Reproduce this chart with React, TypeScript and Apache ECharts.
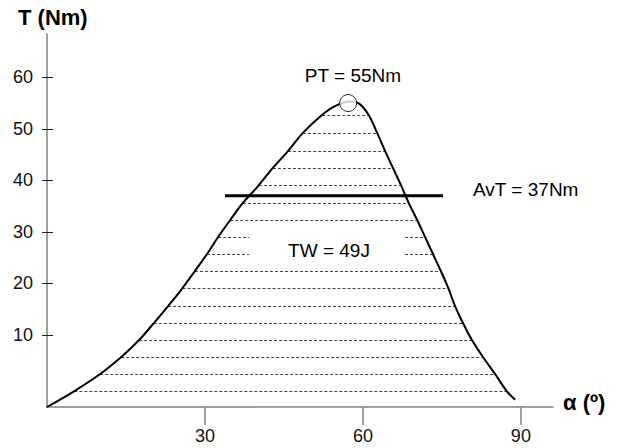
import React, { useEffect, useRef } from "react";
import * as echarts from "echarts";

// ---- data ----
const xTicks = [30, 60, 90];
const yTicks = [10, 20, 30, 40, 50, 60];

const curveAngle = [0, 4.9, 10.1, 14.1, 17.5, 20.3, 23.0, 25.6, 28.1, 30.4, 32.5, 34.8, 37.2, 40.1, 42.9, 45.8, 48.6, 52.0, 54.7, 57.4, 59.4, 61.2, 62.7, 64.2, 65.7, 67.2, 68.7, 70.3, 71.8, 73.3, 74.8, 76.2, 77.5, 79.0, 80.7, 82.8, 85.1, 87.3, 88.9];
const curveTorque = [-4.0, -1.1, 2.4, 5.7, 9.0, 12.3, 15.6, 18.9, 22.4, 25.7, 29.0, 32.3, 35.6, 38.9, 42.4, 45.7, 49.2, 52.5, 54.4, 55.3, 54.8, 52.5, 49.2, 45.7, 42.4, 39.1, 35.6, 32.3, 29.0, 25.7, 22.4, 19.1, 15.6, 12.3, 9.0, 5.7, 2.4, -0.9, -2.6];

const hatchLevels = [52.7, 49.2, 45.7, 42.4, 39.1, 35.6, 32.3, 29.0, 25.7, 22.4, 19.1, 15.6, 12.3, 9.0, 5.7, 2.4, -0.9];
const splitLevels = [29.0, 25.7];
const textGap = [38.4, 68.0];

const peakPoint = [57.2, 55];
const avgTorque = 37;
const avgSpan = [33.8, 75.2];

const labelPT = "PT = 55Nm";
const labelAvT = "AvT = 37Nm";
const labelTW = "TW = 49J";
const yName = "T (Nm)";
const xName = "α (º)";

const FONT = "'Liberation Sans', Arial, Helvetica, sans-serif";

function crossings(level: number): [number, number] {
  let peakIdx = 0;
  curveTorque.forEach((v, i) => {
    if (v > curveTorque[peakIdx]) peakIdx = i;
  });
  let left = curveAngle[0];
  for (let i = 0; i < peakIdx; i++) {
    const a = curveTorque[i], b = curveTorque[i + 1];
    if (a <= level && b >= level) {
      left = curveAngle[i] + ((level - a) / (b - a)) * (curveAngle[i + 1] - curveAngle[i]);
      break;
    }
  }
  let right = curveAngle[curveAngle.length - 1];
  for (let i = peakIdx; i < curveTorque.length - 1; i++) {
    const a = curveTorque[i], b = curveTorque[i + 1];
    if (a >= level && b <= level) {
      right = curveAngle[i] + ((a - level) / (a - b)) * (curveAngle[i + 1] - curveAngle[i]);
      break;
    }
  }
  return [left, right];
}

export default function App() {
  const ref = useRef<HTMLDivElement>(null);
  useEffect(() => {
    if (!ref.current) return;
    const chart = echarts.init(ref.current, null, { renderer: "svg" });

    const hatchData: any[] = [];
    hatchLevels.forEach((lv) => {
      const [l, r] = crossings(lv);
      if (splitLevels.includes(lv)) {
        hatchData.push({ coords: [[l, lv], [textGap[0], lv]] });
        hatchData.push({ coords: [[textGap[1], lv], [r, lv]] });
      } else {
        hatchData.push({ coords: [[l, lv], [r, lv]] });
      }
    });

    const yMin = -4;
    const yMax = 68.4;

    chart.setOption({
      animation: false,
      grid: { left: 47, right: 65, top: 34, bottom: 41, containLabel: false },
      xAxis: {
        type: "value",
        min: 0,
        max: 96.1,
        splitLine: { show: false },
        axisLine: { show: true, onZero: false, lineStyle: { color: "#808080", width: 1.5 } },
        axisTick: { show: true, length: 18, customValues: xTicks, lineStyle: { color: "#808080", width: 1.5 } },
        axisLabel: { customValues: xTicks, margin: 20, fontSize: 18, color: "#111", fontFamily: FONT },
      },
      yAxis: [
        {
          type: "value",
          min: yMin,
          max: yMax,
          splitLine: { show: false },
          axisLine: { show: true, onZero: false, lineStyle: { color: "#808080", width: 1.5 } },
          axisTick: { show: true, length: 5, customValues: yTicks, lineStyle: { color: "#222", width: 1 } },
          axisLabel: { customValues: yTicks, margin: 14, fontSize: 18, color: "#111", fontFamily: FONT },
        },
        {
          type: "value",
          position: "left",
          min: yMin,
          max: yMax,
          splitLine: { show: false },
          axisLine: { show: false, onZero: false },
          axisTick: { show: true, inside: true, length: 6, customValues: yTicks, lineStyle: { color: "#222", width: 1 } },
          axisLabel: { show: false, customValues: yTicks },
        },
      ],
      series: [
        {
          type: "lines",
          coordinateSystem: "cartesian2d",
          silent: true,
          z: 1,
          lineStyle: { color: "#444", width: 1, type: [3, 2], opacity: 1 },
          data: hatchData,
        },
        {
          type: "line",
          z: 3,
          data: curveAngle.map((a, i) => [a, curveTorque[i]]),
          smooth: 0.3,
          showSymbol: false,
          lineStyle: { color: "#000", width: 2 },
        },
        {
          type: "line",
          z: 4,
          data: [[avgSpan[0], avgTorque], [avgSpan[1], avgTorque]],
          showSymbol: false,
          lineStyle: { color: "#000", width: 3 },
        },
        {
          type: "scatter",
          z: 5,
          data: [peakPoint],
          symbol: "circle",
          symbolSize: 17,
          itemStyle: { color: "#fff", borderColor: "#000", borderWidth: 1 },
        },
      ],
      graphic: [
        { type: "text", x: 18, y: 17, style: { text: yName, font: `bold 22px ${FONT}`, fill: "#000", textVerticalAlign: "middle" } },
        { type: "text", x: 563, y: 402, style: { text: xName, font: `bold 22px ${FONT}`, fill: "#000", textVerticalAlign: "middle" } },
        { type: "text", x: 353, y: 75, style: { text: labelPT, font: `19px ${FONT}`, fill: "#000", textAlign: "center", textVerticalAlign: "middle" } },
        { type: "text", x: 473, y: 189, style: { text: labelAvT, font: `19px ${FONT}`, fill: "#000", textVerticalAlign: "middle" } },
        { type: "text", x: 329, y: 250, style: { text: labelTW, font: `19px ${FONT}`, fill: "#000", textAlign: "center", textVerticalAlign: "middle" } },
      ],
    });
    return () => chart.dispose();
  }, []);
  return <div ref={ref} style={{ position: "fixed", left: 0, top: 0, width: 618, height: 448, background: "#fff" }} />;
}
